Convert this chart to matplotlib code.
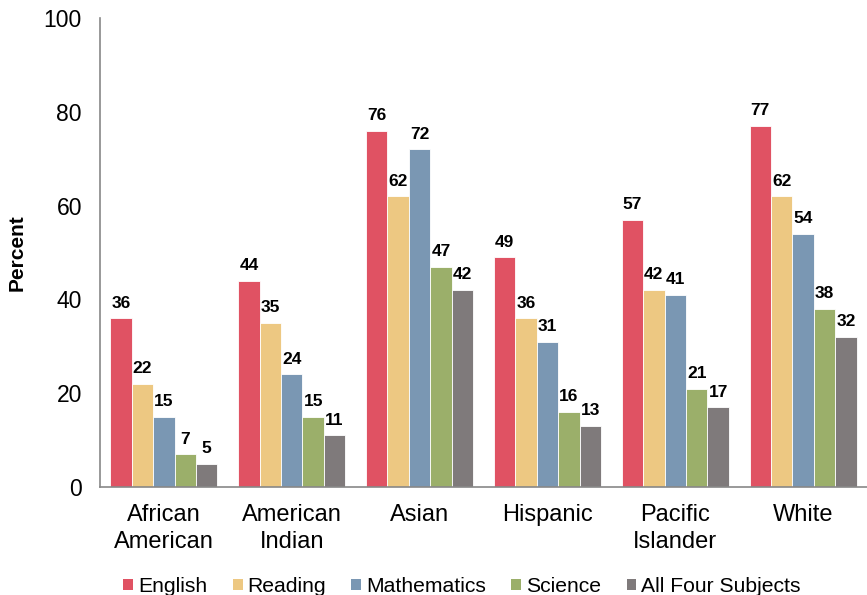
import numpy as np
import matplotlib.pyplot as plt
from matplotlib.patches import Patch

plt.rcParams['font.family'] = ['Liberation Sans', 'DejaVu Sans']

groups = ['African\nAmerican', 'American\nIndian', 'Asian', 'Hispanic',
          'Pacific\nIslander', 'White']
subjects = ['English', 'Reading', 'Mathematics', 'Science', 'All Four Subjects']
english = [36, 44, 76, 49, 57, 77]
reading = [22, 35, 62, 36, 42, 62]
mathematics = [15, 24, 72, 31, 41, 54]
science = [7, 15, 47, 16, 21, 38]
all_four = [5, 11, 42, 13, 17, 32]
colors = ['#E05263', '#EDC882', '#7A97B3', '#9BAF6A', '#7F7A7B']

series = [english, reading, mathematics, science, all_four]

fig = plt.figure(figsize=(8.67, 5.95), dpi=100)
ax = fig.add_axes([0.1153, 0.1815, 0.8847, 0.7882])

x = np.arange(len(groups))
width = 0.1675
for i, (vals, col) in enumerate(zip(series, colors)):
    pos = x + (i - 2) * width
    bars = ax.bar(pos, vals, width, color=col, edgecolor='white', linewidth=0.6)
    for b, v in zip(bars, vals):
        ax.annotate(str(v), (b.get_x() + b.get_width() / 2, v),
                    xytext=(0, 5.5), textcoords='offset points',
                    ha='center', va='bottom', fontsize=12.5, fontweight='bold')

ax.set_xlim(-0.5, len(groups) - 0.5)
ax.set_ylim(0, 100)
ax.set_yticks(range(0, 101, 20))
ax.set_xticks(x)
ax.set_xticklabels(groups, fontsize=17, linespacing=1.3)
ax.tick_params(axis='y', labelsize=16.5, length=0, pad=13)
ax.tick_params(axis='x', length=0, pad=12.5)
ax.set_ylabel('Percent', fontsize=15, fontweight='bold', labelpad=12)

for s in ['top', 'right']:
    ax.spines[s].set_visible(False)
for s in ['left', 'bottom']:
    ax.spines[s].set_color('#888888')
    ax.spines[s].set_linewidth(1.2)

handles = [Patch(facecolor=c, label=s) for c, s in zip(colors, subjects)]
fig.legend(handles=handles, loc='center', bbox_to_anchor=(0.533, 0.014),
           ncol=5, frameon=False, fontsize=15.2, handlelength=0.47,
           handleheight=0.45, handletextpad=0.23, columnspacing=1.2)

fig.savefig('out.png', dpi=100)
